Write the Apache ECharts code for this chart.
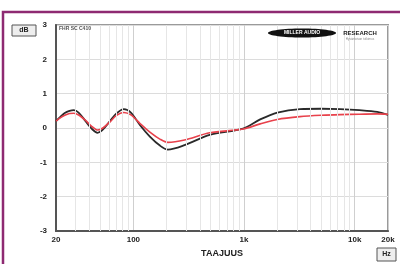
<!DOCTYPE html>
<html>
<head>
<meta charset="utf-8">
<script src="https://cdn.jsdelivr.net/npm/echarts@6/dist/echarts.min.js"></script>
<style>
  html, body { margin: 0; padding: 0; background: #fff; }
  #chart { width: 400px; height: 264px; }
</style>
</head>
<body>
<div id="chart"></div>
<script>
// taajuusvaste, Hz / dB
var freqs = [20, 22, 24, 26.5, 29, 32, 37, 42, 47.5, 53, 61.5, 70, 82, 95, 115, 141, 175, 205, 290, 490, 980, 1400, 2000, 3200, 5000, 7400, 11000, 16000, 20000];
var blackVals = [0.2, 0.33, 0.44, 0.5, 0.52, 0.45, 0.2, -0.02, -0.14, -0.05, 0.2, 0.42, 0.55, 0.45, 0.08, -0.25, -0.52, -0.63, -0.5, -0.2, -0.02, 0.25, 0.45, 0.55, 0.56, 0.55, 0.52, 0.47, 0.38];
var redVals = [0.2, 0.3, 0.37, 0.42, 0.43, 0.38, 0.22, 0.05, -0.06, 0.0, 0.18, 0.36, 0.45, 0.38, 0.13, -0.12, -0.33, -0.42, -0.35, -0.14, -0.03, 0.12, 0.25, 0.33, 0.37, 0.39, 0.4, 0.41, 0.4];
var minorFreqs = [30, 40, 50, 60, 70, 80, 90, 200, 300, 400, 500, 600, 700, 800, 900, 2000, 3000, 4000, 5000, 6000, 7000, 8000, 9000];
var yTicks = [-3, -2, -1, 0, 1, 2, 3];

function pairs(xs, ys) {
    return xs.map(function (x, i) { return [x, ys[i]]; });
}

var chart = echarts.init(document.getElementById('chart'), null, { renderer: 'canvas' });

var option = {
    animation: false,
    backgroundColor: '#fff',
    grid: {
        left: 56, right: 12, top: 25, bottom: 33,
        show: true,
        borderColor: '#9a9a9a',
        borderWidth: 2,
        backgroundColor: '#fff'
    },
    xAxis: {
        type: 'log',
        logBase: 10,
        min: 20,
        max: 20000,
        axisLine: { show: true, onZero: false, lineStyle: { color: '#555', width: 2 } },
        axisTick: { show: false },
        axisLabel: {
            color: '#222', fontSize: 8, fontWeight: 'bold', fontFamily: 'Liberation Sans',
            margin: 5,
            formatter: function (v) {
                v = Math.round(v);
                return v >= 1000 ? (v / 1000) + 'k' : String(v);
            }
        },
        splitLine: { show: true, lineStyle: { color: '#cfcfcf', width: 1 } },
        name: 'TAAJUUS',
        nameLocation: 'middle',
        nameGap: 18,
        nameTextStyle: { color: '#222', fontSize: 9, fontWeight: 'bold', fontFamily: 'Liberation Sans' }
    },
    yAxis: {
        type: 'value',
        min: -3,
        max: 3,
        interval: 1,
        axisLine: { show: true, onZero: false, lineStyle: { color: '#555', width: 2 } },
        axisTick: { show: false },
        axisLabel: {
            color: '#222', fontSize: 8, fontWeight: 'bold', fontFamily: 'Liberation Sans',
            margin: 9,
            formatter: function (v) { return yTicks.indexOf(v) >= 0 ? String(v) : ''; }
        },
        splitLine: { show: true, lineStyle: { color: '#dcdcdc', width: 1 } }
    },
    series: [
        {
            type: 'line',
            data: [],
            silent: true,
            markLine: {
                silent: true,
                symbol: 'none',
                label: { show: false },
                lineStyle: { color: '#e6e6e6', width: 1, type: 'solid' },
                data: minorFreqs.map(function (f) { return { xAxis: f }; })
            }
        },
        {
            type: 'line',
            data: pairs(freqs, blackVals),
            smooth: 0.3,
            showSymbol: false,
            lineStyle: { color: '#2a2a2a', width: 1.8 },
            z: 3
        },
        {
            type: 'line',
            data: pairs(freqs, redVals),
            smooth: 0.3,
            showSymbol: false,
            lineStyle: { color: '#e8414b', width: 1.6 },
            z: 4
        }
    ],
    graphic: [
        {
            type: 'rect', shape: { x: 3, y: 12, width: 420, height: 300 },
            style: { fill: 'none', stroke: '#8e2a72', lineWidth: 2.5 }, z: 100
        },
        {
            type: 'rect', shape: { x: 12, y: 25, width: 24, height: 11 },
            style: { fill: '#eee', stroke: '#555', lineWidth: 1 }, z: 100
        },
        {
            type: 'text', x: 24, y: 30.5,
            style: { text: 'dB', fill: '#222', font: 'bold 7px Liberation Sans', align: 'center', verticalAlign: 'middle' }, z: 101
        },
        {
            type: 'rect', shape: { x: 377, y: 248, width: 19, height: 13 },
            style: { fill: '#eee', stroke: '#555', lineWidth: 1 }, z: 100
        },
        {
            type: 'text', x: 386.5, y: 254.5,
            style: { text: 'Hz', fill: '#222', font: 'bold 7px Liberation Sans', align: 'center', verticalAlign: 'middle' }, z: 101
        },
        {
            type: 'text', x: 59, y: 29,
            style: { text: 'FHR SC C410', fill: '#555', font: 'bold 5px Liberation Sans', verticalAlign: 'middle' }, z: 101
        },
        {
            type: 'ellipse', shape: { cx: 302, cy: 33, rx: 34, ry: 4.5 },
            style: { fill: '#111' }, z: 100
        },
        {
            type: 'text', x: 302, y: 33,
            style: { text: 'MILLER AUDIO', fill: '#fff', font: 'bold 5px Liberation Sans', align: 'center', verticalAlign: 'middle' }, z: 101
        },
        {
            type: 'text', x: 360, y: 33,
            style: { text: 'RESEARCH', fill: '#222', font: 'bold 6px Liberation Sans', align: 'center', verticalAlign: 'middle' }, z: 101
        },
        {
            type: 'text', x: 360, y: 39.5,
            style: { text: 'Hyväntoivon tutkimus', fill: '#888', font: '3px Liberation Sans', align: 'center', verticalAlign: 'middle' }, z: 101
        }
    ]
};

chart.setOption(option);
</script>
</body>
</html>
